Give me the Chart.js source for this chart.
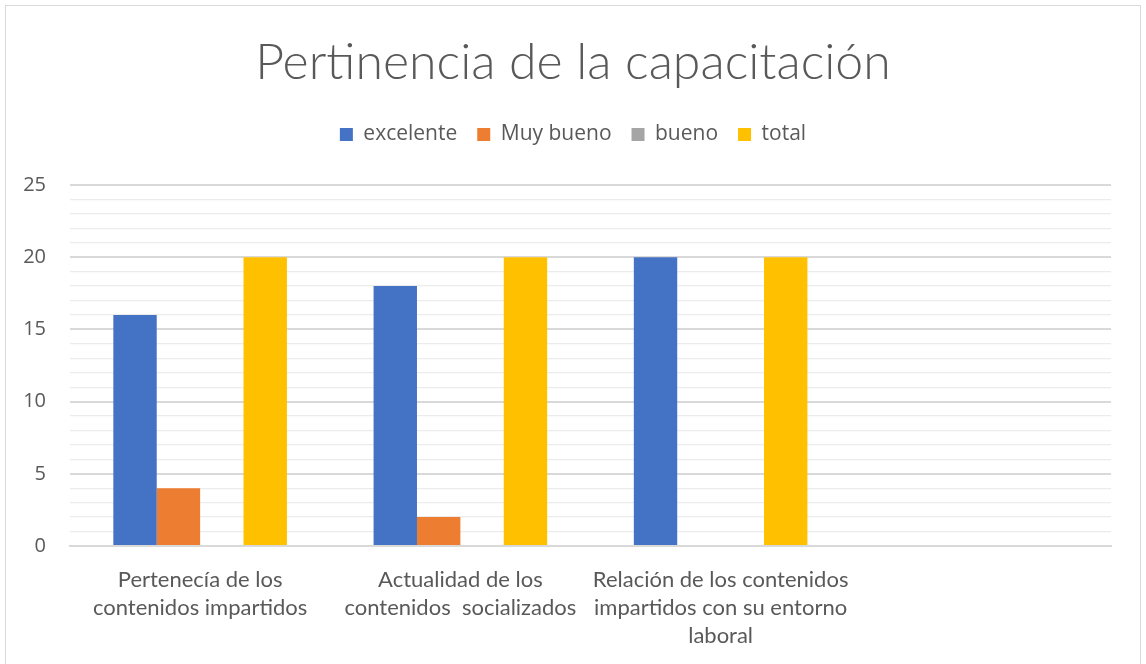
<!DOCTYPE html>
<html><head><meta charset="utf-8">
<script src="https://cdn.jsdelivr.net/npm/chart.js@4.4.1/dist/chart.umd.min.js"></script>
<style>html,body{margin:0;padding:0;background:#fff;overflow:hidden}</style>
</head><body>
<canvas id="c" width="1146" height="664"></canvas>
<script>
const categories = [
  ["Pertenecía de los", "contenidos impartidos"],
  ["Actualidad de los", "contenidos  socializados"],
  ["Relación de los contenidos", "impartidos con su entorno", "laboral"],
  ""
];
const seriesNames = ["excelente", "Muy bueno", "bueno", "total"];
const excelente = [16, 18, 20, null];
const muyBueno = [4, 2, null, null];
const bueno = [null, null, null, null];
const total = [20, 20, 20, null];
const yMax = 25;
const yMajorStep = 5;
const colors = ["#4472C4", "#ED7D31", "#A5A5A5", "#FFC000"];

const TITLE_FONT = "Lato, 'Noto Sans', sans-serif";
const UI_FONT = "'Open Sans', 'Noto Sans', sans-serif";
const LABEL_FONT = "Lato, 'Noto Sans', sans-serif";
const TXT = "#595959";

const frame = {
  id: 'frame',
  afterDraw(chart) {
    const ctx = chart.ctx;
    ctx.save();
    ctx.strokeStyle = '#d9d9d9';
    ctx.lineWidth = 1;
    ctx.strokeRect(5.5, 5.5, 1135, 670);
    ctx.restore();
  }
};
const legendGap = {
  id: 'legendGap',
  beforeInit(chart) {
    const fit = chart.legend.fit;
    chart.legend.fit = function () { fit.call(this); this.height += 30; };
  }
};

const allSeries = [excelente, muyBueno, bueno, total];
new Chart(document.getElementById('c'), {
  type: 'bar',
  data: {
    labels: categories,
    datasets: allSeries.map((d, i) => ({
      label: seriesNames[i], data: d, backgroundColor: colors[i], borderWidth: 0
    }))
  },
  options: {
    responsive: false,
    animation: false,
    layout: { padding: 0 },
    datasets: { bar: { categoryPercentage: 0.667, barPercentage: 1 } },
    plugins: {
      title: {
        display: true, text: 'Pertinencia de la capacitación', color: TXT,
        font: { family: TITLE_FONT, size: 50, weight: 300 },
        padding: { top: 33, bottom: 11 }
      },
      legend: {
        position: 'top',
        labels: { boxWidth: 13, boxHeight: 13, padding: 20, color: TXT,
          font: { family: UI_FONT, size: 21 } }
      },
      tooltip: { enabled: false }
    },
    scales: {
      x: {
        grid: { display: false, drawTicks: false },
        border: { color: '#d9d9d9', width: 2 },
        ticks: { color: TXT, font: { family: LABEL_FONT, size: 22, lineHeight: 1.273 },
          padding: 20, maxRotation: 0, autoSkip: false },
        afterFit(s) { s.height = 118; }
      },
      y: {
        min: 0, max: yMax,
        grid: { drawTicks: false,
          color: c => (c.tick.value % yMajorStep === 0 ? '#d9d9d9' : '#ececec'),
          lineWidth: c => (c.tick.value % yMajorStep === 0 ? 2 : 1.3) },
        border: { display: false },
        ticks: { stepSize: 1, autoSkip: false, color: TXT, padding: 24,
          font: { family: UI_FONT, size: 20 },
          callback: v => (v % yMajorStep === 0 ? String(v) : '') },
        afterFit(s) { s.width = 70; }
      },
      yRight: {
        position: 'right', min: 0, max: yMax,
        grid: { display: false, drawTicks: false },
        border: { display: false },
        ticks: { display: false },
        afterFit(s) { s.width = 35; }
      }
    }
  },
  plugins: [frame, legendGap]
});
</script>
</body></html>
